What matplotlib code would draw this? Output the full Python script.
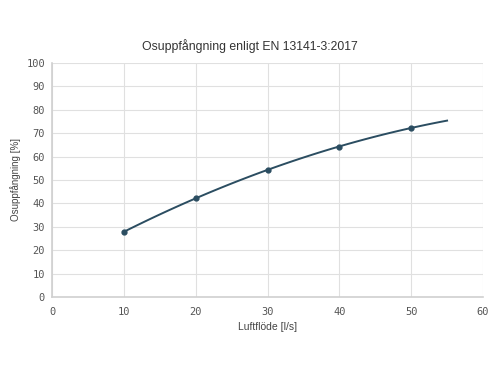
import numpy as np
import matplotlib.pyplot as plt

# Data
flow = [10, 20, 30, 40, 50, 55]
capture = [27.8, 42.2, 54.3, 64.2, 72.3, 75.3]

fig = plt.figure(figsize=(5, 3.71), dpi=100)
ax = fig.add_axes([0.104, 0.1995, 0.862, 0.631])

# smooth curve through the points
coef = np.polyfit(flow, capture, 2)
xs = np.linspace(flow[0], flow[-1], 100)
ax.plot(xs, np.polyval(coef, xs), color='#2b4d61', lw=1.4, zorder=3)
ax.plot(flow[:-1], capture[:-1], 'o', color='#2b4d61', ms=3.5, zorder=4)

ax.set_xlim(0, 60)
ax.set_ylim(0, 100)
ax.set_xticks(range(0, 61, 10))
ax.set_yticks(range(0, 101, 10))
ax.grid(True, color='#e0e0e0', lw=0.8)
ax.set_axisbelow(True)
for s in ['top', 'right']:
    ax.spines[s].set_visible(False)
for s in ['left', 'bottom']:
    ax.spines[s].set_color('#d0d0d0')
    ax.spines[s].set_linewidth(1.2)
ax.tick_params(length=0, pad=5, labelsize=7.5, colors='#555555')
ax.tick_params(axis='x', pad=7)
for lab in ax.get_xticklabels() + ax.get_yticklabels():
    lab.set_family('DejaVu Sans Mono')

fig.text(0.5, 0.876, "Osuppfångning enligt EN 13141-3:2017", fontsize=8.8,
         color='#333333', family='Liberation Sans', ha='center', va='center')
ax.set_xlabel("Luftflöde [l/s]", fontsize=7.5, color='#444444',
              family='Liberation Sans', labelpad=4)
ax.set_ylabel("Osuppfångning [%]", fontsize=7, color='#444444',
              family='Liberation Sans', labelpad=4)

fig.savefig('out.png', dpi=100)
